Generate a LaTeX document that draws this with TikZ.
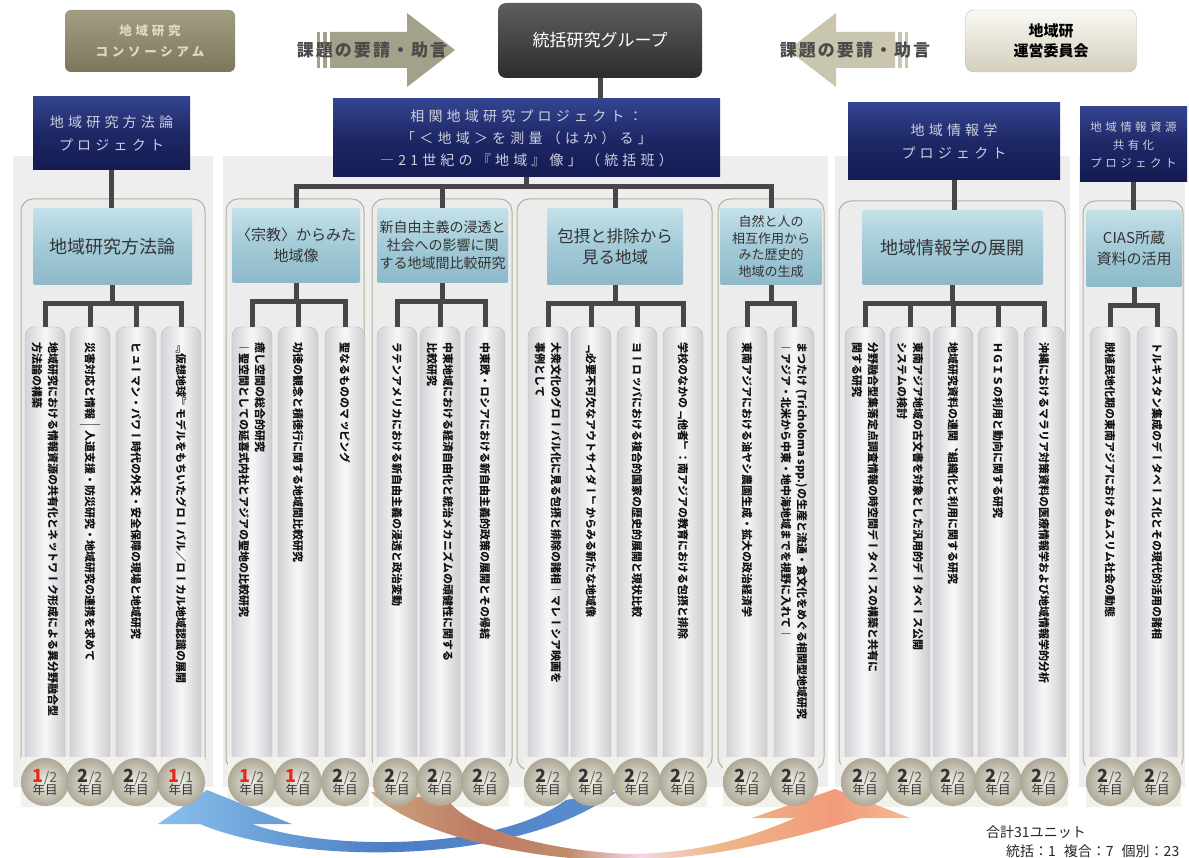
\documentclass[tikz,border=0pt]{standalone}
\usepackage{fontspec}
\setmainfont{Noto Sans CJK JP}
\newfontfamily\jp{Noto Sans CJK JP}
\newfontfamily\jpls[LetterSpace=30]{Noto Sans CJK JP}
\newfontfamily\jpsp[LetterSpace=12]{Noto Sans CJK JP}
\newfontfamily\tate[Vertical=RotatedGlyphs]{Noto Sans CJK JP}
\definecolor{panelf}{HTML}{EEEEEE}
\definecolor{panelb}{HTML}{A6A494}
\definecolor{grpf}{HTML}{ECECEC}
\definecolor{grpb}{HTML}{B7B097}
\definecolor{hdrtop}{HTML}{C4E1E9}
\definecolor{hdrmid}{HTML}{A3CAD7}
\definecolor{hdrbot}{HTML}{8DB9C9}
\definecolor{hdrtext}{HTML}{333333}
\definecolor{navytop}{HTML}{34448F}
\definecolor{navymid}{HTML}{1E2866}
\definecolor{navybot}{HTML}{141B52}
\definecolor{navytext}{HTML}{CDCFDD}
\definecolor{connc}{HTML}{474747}
\definecolor{pilL}{HTML}{D3D3D7}
\definecolor{pilM}{HTML}{F7F7F9}
\definecolor{pilR}{HTML}{CDCDD1}
\definecolor{pilE}{HTML}{BBBBBF}
\definecolor{coltextc}{HTML}{111111}
\definecolor{badgeIn}{HTML}{EEECE5}
\definecolor{badgeOut}{HTML}{ADA896}
\definecolor{badgebgc}{HTML}{F2F1EC}
\definecolor{bred}{HTML}{E8281C}
\definecolor{bdark}{HTML}{333333}
\definecolor{bgray}{HTML}{5A5A5A}
\definecolor{blueL}{HTML}{8AC0EC}
\definecolor{blueM}{HTML}{4B7EC3}
\definecolor{blueR}{HTML}{5B8ED0}
\definecolor{orA}{HTML}{CBA683}
\definecolor{orB}{HTML}{BE7B62}
\definecolor{orC}{HTML}{C08A6A}
\definecolor{orD}{HTML}{F3D8E4}
\definecolor{orE}{HTML}{EDB98A}
\definecolor{orF}{HTML}{F29A7A}
\definecolor{orG}{HTML}{F4BC94}
\definecolor{consT}{HTML}{A29E84}
\definecolor{consB}{HTML}{7B775D}
\definecolor{consText}{HTML}{DDD9C5}
\definecolor{topT}{HTML}{5E5E5E}
\definecolor{topB}{HTML}{2C2C2C}
\definecolor{commT}{HTML}{FAF9F4}
\definecolor{commB}{HTML}{D3CFBC}
\definecolor{commD}{HTML}{C4C0AC}
\definecolor{arrowR}{HTML}{A4A18A}
\definecolor{arrowL}{HTML}{C9C5AF}
\definecolor{arrowText}{HTML}{4A4A4A}
\pgfdeclarehorizontalshading{orshade}{100bp}{color(0bp)=(orA); color(25bp)=(orA); color(35bp)=(orB); color(43bp)=(orC); color(50bp)=(orD); color(57bp)=(orE); color(68bp)=(orF); color(75bp)=(orG); color(100bp)=(orG)}
\newcommand\bdg[2]{{\fontsize{18}{18}\selectfont\bfseries\ifnum#1=1 \color{bred}\else\color{bdark}\fi#1}{\fontsize{14}{14}\selectfont\color{bgray}/#2}\\[-2pt]{\fontsize{12.5}{13}\selectfont\color{bdark}年目}}
\newcommand\pcol[3]{\node[pillar] (c#1) at (#2,548.5) {};\node[coltext] (t#1) at ([yshift=-16pt]c#1.north) {#3};}
\newcommand\drop[2]{\draw[conn] (#1.south) -- ++(0,18) -| (c#2.north);}
\newcommand\pbadge[3]{\node[badge] (b#1) at (c#1 |- 0,782) {\bdg{#2}{#3}};}
\newcommand\lat[1]{{\jp\bfseries #1}}
\begin{document}
\begin{tikzpicture}[x=1pt,y=-1pt,
 conn/.style={draw=connc, line width=5pt},
 panel/.style={draw=panelb, double=white, double distance=1.6pt, fill=panelf},
 grp/.style={draw=grpb, line width=1pt, rounded corners=12pt, fill=grpf},
 hdr/.style={rounded corners=2pt, top color=hdrtop, bottom color=hdrbot, middle color=hdrmid, text=hdrtext, align=center, inner sep=0pt},
 proj/.style={top color=navytop, bottom color=navybot, middle color=navymid, text=navytext, align=center, inner sep=0pt},
 pillar/.style={rounded corners=9pt, draw=pilE, line width=0.4pt, left color=pilL, right color=pilR, middle color=pilM, minimum width=40pt, minimum height=443pt, inner sep=0pt},
 coltext/.style={rotate=-90, anchor=west, align=left, inner sep=0pt, text=coltextc, font=\tate\bfseries\fontsize{11}{16}\selectfont},
 badge/.style={circle, minimum size=48pt, inner sep=0pt, inner color=badgeIn, outer color=badgeOut, align=center, font=\jp},
 arrowtext/.style={text=arrowText, font=\jpsp\bfseries\fontsize{17}{17}\selectfont, inner sep=0pt}
]
\useasboundingbox (0,0) rectangle (1189,858);
\fill[white] (0,0) rectangle (1189,858);
% outer panels
\draw[panel] (12,155) rectangle (214,788);
\draw[panel] (222,155) rectangle (829,788);
\draw[panel] (834,155) rectangle (1071,788);
\draw[panel] (1078,155) rectangle (1186,788);
% groups
\draw[grp] (21,199) rectangle (205,770);
\draw[grp] (226,199) rectangle (364,770);
\draw[grp] (372,199) rectangle (512,770);
\draw[grp] (517,199) rectangle (712,770);
\draw[grp] (718,199) rectangle (824,770);
\draw[grp] (839,201) rectangle (1065,770);
\draw[grp] (1083,201) rectangle (1183,770);
% top row
\node[rounded corners=6pt, top color=consT, bottom color=consB, minimum width=170pt, minimum height=62pt, text=consText, align=center, font=\jpls\bfseries\fontsize{12.5}{21}\selectfont] (cons) at (150,41) {地域研究\\コンソーシアム};
\node[rounded corners=8pt, top color=topT, bottom color=topB, minimum width=204pt, minimum height=75pt, text=white, font=\jp\fontsize{17}{20}\selectfont] (top) at (600,40.5) {統括研究グループ};
\node[rounded corners=8pt, draw=commD, top color=commT, bottom color=commB, minimum width=171pt, minimum height=62pt, text=black, align=center, font=\jp\bfseries\fontsize{15}{20}\selectfont] (comm) at (1051,41) {地域研\\運営委員会};
% request arrows
\fill[arrowR] (317,32) rectangle (320,68);
\fill[arrowR] (323,32) rectangle (327,68);
\fill[arrowR] (330,32) -- (407,32) -- (407,13) -- (455,50) -- (407,87) -- (407,68) -- (330,68) -- cycle;
\node[arrowtext] (req1) at (372,50) {課題の要請・助言};
\fill[arrowL] (788,50) -- (836,13) -- (836,32) -- (895,32) -- (895,68) -- (836,68) -- (836,87) -- cycle;
\fill[arrowL] (898,32) rectangle (902,68);
\fill[arrowL] (905,32) rectangle (908,68);
\node[arrowtext] (req2) at (855,50) {課題の要請・助言};
% project boxes
\node[proj, minimum width=157pt, minimum height=73pt, font=\jpls\fontsize{14}{23}\selectfont] (p1) at (111.5,133.5) {地域研究方法論\\プロジェクト};
\node[proj, minimum width=387pt, minimum height=78pt, font=\jpls\fontsize{14}{22}\selectfont] (p2) at (526.5,138) {相関地域研究プロジェクト：\\「＜地域＞を測量（はか）る」\\―21世紀の『地域』像」（統括班）};
\node[proj, minimum width=212pt, minimum height=77pt, font=\jpls\fontsize{14}{23}\selectfont] (p3) at (954,141.5) {地域情報学\\プロジェクト};
\node[proj, minimum width=107pt, minimum height=75pt, font=\jpls\fontsize{11.5}{18}\selectfont] (p4) at (1133.5,144.5) {地域情報資源\\共有化\\プロジェクト};
% headers
\node[hdr, minimum width=159pt, minimum height=77pt, font=\jp\fontsize{18}{22}\selectfont] (h1) at (112.5,246.5) {地域研究方法論};
\node[hdr, minimum width=128pt, minimum height=75pt, font=\jp\fontsize{15}{21}\selectfont] (h2) at (296,245.5) {〈宗教〉からみた\\地域像};
\node[hdr, minimum width=131pt, minimum height=75pt, font=\jp\fontsize{14}{18}\selectfont] (h3) at (442.5,245.5) {新自由主義の浸透と\\社会への影響に関\\する地域間比較研究};
\node[hdr, minimum width=136pt, minimum height=77pt, font=\jp\fontsize{16.5}{21}\selectfont] (h4) at (615,246.5) {包摂と排除から\\見る地域};
\node[hdr, minimum width=102pt, minimum height=77pt, font=\jp\fontsize{13}{16.5}\selectfont] (h5) at (771,246.5) {自然と人の\\相互作用から\\みた歴史的\\地域の生成};
\node[hdr, minimum width=181pt, minimum height=75pt, font=\jp\fontsize{18}{22}\selectfont] (h6) at (952.5,247.5) {地域情報学の展開};
\node[hdr, minimum width=96pt, minimum height=77pt, font=\jp\fontsize{15}{21}\selectfont] (h7) at (1134,248.5) {CIAS所蔵\\資料の活用};
% connectors from above
\draw[conn] (top.south) -- (top.south |- p2.north);
\draw[conn] (p1.south) -- (p1.south |- h1.north);
\draw[conn] (p3.south) -- (p3.south |- h6.north);
\draw[conn] (p4.south) -- (p4.south |- h7.north);
\draw[conn] (p2.south) -- ++(0,9) -| (h2.north);
\draw[conn] (p2.south) -- ++(0,9) -| (h3.north);
\draw[conn] (p2.south) -- ++(0,9) -| (h4.north);
\draw[conn] (p2.south) -- ++(0,9) -| (h5.north);
% columns
\pcol{11}{45}{地域研究における情報資源の共有化とネットワーク形成による異分野融合型\\方法論の構築}
\pcol{12}{90}{災害対応と情報――人道支援・防災研究・地域研究の連携を求めて}
\pcol{13}{136}{ヒューマン・パワー時代の外交・安全保障の現場と地域研究}
\pcol{14}{181}{『仮想地球』モデルをもちいたグローバル／ローカル地域認識の展開}
\pcol{21}{252}{癒し空間の総合的研究\\―聖空間としての延喜式内社とアジアの聖地の比較研究}
\pcol{22}{298}{功徳の観念と積徳行に関する地域間比較研究}
\pcol{23}{345}{聖なるもののマッピング}
\pcol{31}{397}{ラテンアメリカにおける新自由主義の浸透と政治変動}
\pcol{32}{440}{中東地域における経済自由化と統治メカニズムの頑健性に関する\\比較研究}
\pcol{33}{485}{中東欧・ロシアにおける新自由主義的政策の展開とその帰結}
\pcol{41}{548}{大衆文化のグローバル化に見る包摂と排除の諸相―マレーシア映画を\\事例として}
\pcol{42}{591}{「必要不可欠なアウトサイダー」からみる新たな地域像}
\pcol{43}{637}{ヨーロッパにおける複合的国家の歴史的展開と現状比較}
\pcol{44}{683}{学校のなかの「他者」：南アジアの教育における包摂と排除}
\pcol{51}{747}{東南アジアにおける油ヤシ農園生成・拡大の政治経済学}
\pcol{52}{794}{まつたけ\lat{ (Tricholoma spp.)}の生産と流通・食文化をめぐる相関型地域研究\\―アジア・北米から中東・地中海地域までを視野に入れて―}
\pcol{61}{865}{分野融合型集落定点調査情報の時空間データベースの構築と共有に\\関する研究}
\pcol{62}{910}{東南アジア地域の古文書を対象とした汎用的データベース公開\\システムの検討}
\pcol{63}{953}{地域研究資料の連関、組織化と利用に関する研究}
\pcol{64}{998}{ＨＧＩＳの利用と動向に関する研究}
\pcol{65}{1044}{沖縄におけるマラリア対策資料の医療情報学および地域情報学的分析}
\pcol{71}{1110}{脱植民地化期の東南アジアにおけるムスリム社会の動態}
\pcol{72}{1157}{トルキスタン集成のデータベース化とその現代的活用の諸相}
% drops
\drop{h1}{11}\drop{h1}{12}\drop{h1}{13}\drop{h1}{14}
\drop{h2}{21}\drop{h2}{22}\drop{h2}{23}
\drop{h3}{31}\drop{h3}{32}\drop{h3}{33}
\drop{h4}{41}\drop{h4}{42}\drop{h4}{43}\drop{h4}{44}
\drop{h5}{51}\drop{h5}{52}
\drop{h6}{61}\drop{h6}{62}\drop{h6}{63}\drop{h6}{64}\drop{h6}{65}
\drop{h7}{71}\drop{h7}{72}
% badge bands
\fill[badgebgc] (21,757) rectangle (205,807);
\fill[badgebgc] (228,757) rectangle (369,807);
\fill[badgebgc] (373,757) rectangle (509,807);
\fill[badgebgc] (524,757) rectangle (707,807);
\fill[badgebgc] (723,757) rectangle (818,807);
\fill[badgebgc] (841,757) rectangle (1068,807);
\fill[badgebgc] (1086,757) rectangle (1181,807);
% bottom ribbons
\shade[left color=blueL, right color=blueR, middle color=blueM]
 (158,824) -- (207,790) -- (292,824) -- (252,824)
 .. controls (330,852) and (500,850) .. (566,800)
 -- (616,792)
 .. controls (520,866) and (300,866) .. (200,824) -- cycle;
\shade[shading=orshade]
 (371,792) .. controls (420,842) and (560,864) .. (640,860)
 .. controls (730,856) and (800,836) .. (862,818)
 -- (910,818) -- (835,789) -- (752,818) -- (795,818)
 .. controls (740,842) and (690,853) .. (630,854)
 .. controls (560,852) and (470,832) .. (448,800) -- cycle;
% badges
\pbadge{11}{1}{2}\pbadge{12}{2}{2}\pbadge{13}{2}{2}\pbadge{14}{1}{1}
\pbadge{21}{1}{2}\pbadge{22}{1}{2}\pbadge{23}{2}{2}
\pbadge{31}{2}{2}\pbadge{32}{2}{2}\pbadge{33}{2}{2}
\pbadge{41}{2}{2}\pbadge{42}{2}{2}\pbadge{43}{2}{2}\pbadge{44}{2}{2}
\pbadge{51}{2}{2}\pbadge{52}{2}{2}
\pbadge{61}{2}{2}\pbadge{62}{2}{2}\pbadge{63}{2}{2}\pbadge{64}{2}{2}\pbadge{65}{2}{2}
\pbadge{71}{2}{2}\pbadge{72}{2}{2}
% totals
\node[anchor=west, inner sep=0pt, font=\jp\fontsize{14}{16}\selectfont, text=black!85] (tot1) at (986,832) {合計31ユニット};
\node[anchor=west, inner sep=0pt, font=\jp\fontsize{14}{16}\selectfont, text=black!85] (tot2) at (1006,851) {統括：1\hspace{8pt}複合：7\hspace{8pt}個別：23};
\end{tikzpicture}
\end{document}
